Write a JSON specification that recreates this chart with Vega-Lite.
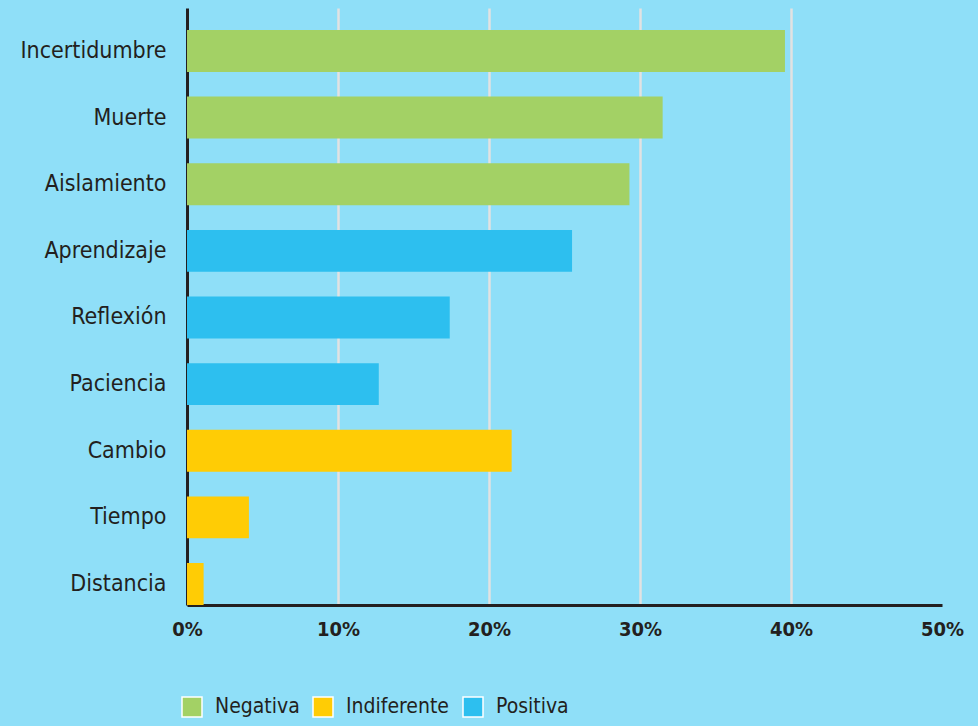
{
  "$schema": "https://vega.github.io/schema/vega-lite/v6.json",
  "autosize": {"type": "none"},
  "width": 755,
  "height": 597,
  "padding": {"left": 187, "top": 8, "right": 36, "bottom": 121},
  "background": "#8fdff8",
  "config": {
    "view": {"stroke": null},
    "font": "DejaVu Sans Condensed, Roboto, sans-serif"
  },
  "data": {
    "values": [
      {"emocion": "Incertidumbre", "valor": 39.6, "tipo": "Negativa"},
      {"emocion": "Muerte", "valor": 31.5, "tipo": "Negativa"},
      {"emocion": "Aislamiento", "valor": 29.3, "tipo": "Negativa"},
      {"emocion": "Aprendizaje", "valor": 25.5, "tipo": "Positiva"},
      {"emocion": "Reflexión", "valor": 17.4, "tipo": "Positiva"},
      {"emocion": "Paciencia", "valor": 12.7, "tipo": "Positiva"},
      {"emocion": "Cambio", "valor": 21.5, "tipo": "Indiferente"},
      {"emocion": "Tiempo", "valor": 4.1, "tipo": "Indiferente"},
      {"emocion": "Distancia", "valor": 1.1, "tipo": "Indiferente"}
    ]
  },
  "mark": {"type": "bar"},
  "encoding": {
    "y": {
      "field": "emocion",
      "type": "nominal",
      "sort": null,
      "title": null,
      "scale": {"paddingInner": 0.37, "paddingOuter": 0.165, "align": 1},
      "axis": {
        "domainColor": "#231f20",
        "domainWidth": 3,
        "ticks": false,
        "labelPadding": 21,
        "labelFontSize": 23,
        "labelFontWeight": 500,
        "labelColor": "#231f20",
        "labelFont": "DejaVu Sans Condensed, Roboto, sans-serif"
      }
    },
    "x": {
      "field": "valor",
      "type": "quantitative",
      "title": null,
      "scale": {"domain": [0, 50], "nice": false},
      "axis": {
        "values": [0, 10, 20, 30, 40, 50],
        "labelExpr": "datum.value + '%'",
        "domainColor": "#231f20",
        "domainWidth": 3,
        "ticks": false,
        "grid": true,
        "gridColor": "#e2e2e2",
        "gridWidth": 2.5,
        "gridOpacity": {"condition": {"test": "datum.value === 50 || datum.value === 0", "value": 0}, "value": 1},
        "labelPadding": 14,
        "labelFontSize": 20,
        "labelFontWeight": "bold",
        "labelColor": "#231f20",
        "labelFont": "DejaVu Sans Condensed, Roboto, sans-serif",
        "labelFlush": false
      }
    },
    "color": {
      "field": "tipo",
      "type": "nominal",
      "scale": {
        "domain": ["Negativa", "Indiferente", "Positiva"],
        "range": ["#a3d165", "#ffcc05", "#2dbfef"]
      },
      "legend": {
        "title": null,
        "orient": "none",
        "direction": "horizontal",
        "legendX": -6,
        "legendY": 688,
        "symbolType": "square",
        "symbolSize": 400,
        "symbolStrokeColor": "white",
        "symbolStrokeWidth": 1.5,
        "symbolOpacity": 1,
        "labelFontSize": 21,
        "labelColor": "#231f20",
        "labelFont": "DejaVu Sans Condensed, Roboto, sans-serif",
        "labelOffset": 12,
        "columnPadding": 10
      }
    }
  }
}
